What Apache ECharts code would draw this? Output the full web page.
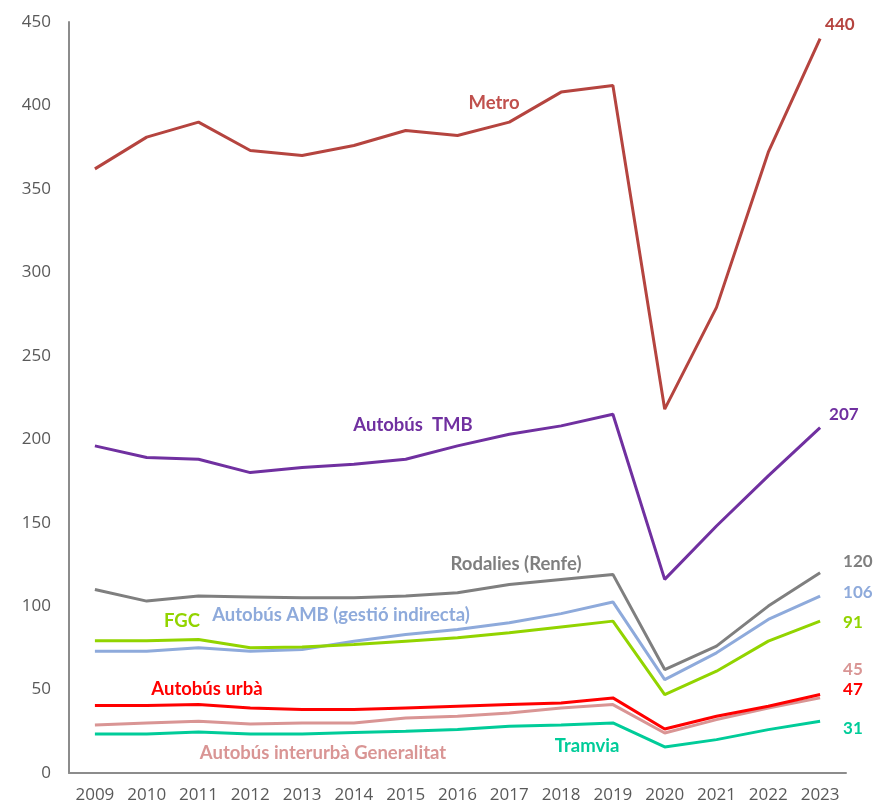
<!DOCTYPE html>
<html>
<head>
<meta charset="utf-8">
<script src="https://cdn.jsdelivr.net/npm/echarts@6/dist/echarts.min.js"></script>
<style>html,body{margin:0;padding:0;background:#fff;}#c{width:875px;height:808px;}</style>
</head>
<body>
<div id="c"></div>
<script>
const years = ['2009','2010','2011','2012','2013','2014','2015','2016','2017','2018','2019','2020','2021','2022','2023'];
const yTicks = [0, 50, 100, 150, 200, 250, 300, 350, 400, 450];

const metro      = [362, 381, 390, 373, 370, 376, 385, 382, 390, 408, 412, 218, 279, 372, 440];
const busTMB     = [196, 189, 188, 180, 183, 185, 188, 196, 203, 208, 215, 116, 148, 178, 207];
const rodalies   = [110, 103, 106, 105.5, 105, 105, 106, 108, 113, 116, 119, 62, 76, 100, 120];
const busAMB     = [73, 73, 75, 73, 74, 79, 83, 86, 90, 95.5, 102.5, 56, 72, 92, 106];
const fgc        = [79.3, 79.3, 80, 75, 75.5, 77, 79, 81, 84, 87.5, 91, 47, 61, 79, 91];
const busUrba    = [40.4, 40.4, 41, 39, 38, 38, 39, 40, 41, 42, 45, 26.4, 34, 40, 47];
const busInter   = [28.8, 30, 31, 29.4, 30, 30, 33, 34, 36, 39, 41, 24, 32, 39, 45];
const tramvia    = [23.4, 23.4, 24.5, 23.3, 23.3, 24.3, 25, 26, 28, 28.8, 30, 15.6, 20, 26, 31];

const FONT = 'Lato';

function mk(name, data, color, width, endOffset, endDist) {
  return {
    name: name, type: 'line', data: data, symbol: 'none', smooth: false,
    lineStyle: { color: color, width: width },
    itemStyle: { color: color },
    z: 3,
    endLabel: {
      show: true, formatter: p => String(p.value),
      color: color, fontFamily: FONT, fontWeight: 'bold', fontSize: 17,
      distance: endDist, offset: endOffset, align: 'left'
    },
    animation: false
  };
}

const chart = echarts.init(document.getElementById('c'), null, { renderer: 'canvas' });

function lbl(text, x, y, color) {
  return { type: 'text', x: x, y: y, z: 10,
    style: { text: text, fill: color, font: 'bold 18.5px ' + FONT, align: 'center', verticalAlign: 'middle' } };
}

chart.setOption({
  animation: false,
  backgroundColor: '#ffffff',
  grid: { left: 69, right: 29, top: 22, bottom: 35, containLabel: false },
  xAxis: {
    type: 'category', data: years, boundaryGap: true,
    axisLine: { show: true, lineStyle: { color: '#8c8c8c', width: 2 } },
    axisTick: { show: false },
    axisLabel: { color: '#595959', fontFamily: 'Open Sans', fontSize: 17, margin: 14, interval: 0 },
    splitLine: { show: false }
  },
  yAxis: {
    type: 'value', min: 0, max: 450, interval: 50,
    axisLine: { show: true, lineStyle: { color: '#8c8c8c', width: 2 } },
    axisTick: { show: false },
    axisLabel: { color: '#595959', fontFamily: 'Open Sans', fontSize: 17, margin: 18,
      formatter: v => yTicks.includes(v) ? String(v) : '' },
    splitLine: { show: false }
  },
  series: [
    mk('Metro', metro, '#b5443f', 3, [0, -14], 5),
    mk('Autobús TMB', busTMB, '#7030a0', 3, [0, -13], 9),
    mk('Rodalies (Renfe)', rodalies, '#7f7f7f', 3, [0, -11], 23),
    mk('Autobús AMB (gestió indirecta)', busAMB, '#8eaadb', 3, [0, -4], 23),
    mk('FGC', fgc, '#92d400', 3, [0, 1], 23),
    mk('Autobús interurbà Generalitat', busInter, '#d99594', 3, [0, -28], 23),
    mk('Autobús urbà', busUrba, '#ff0000', 3, [0, -5], 23),
    mk('Tramvia', tramvia, '#00cc99', 3, [0, 7], 23)
  ],
  graphic: [
    lbl('Metro', 494, 103, '#c0504d'),
    lbl('Autobús  TMB', 413, 425, '#7030a0'),
    lbl('Rodalies (Renfe)', 516, 564, '#7f7f7f'),
    lbl('FGC', 182, 621, '#92d400'),
    lbl('Autobús AMB (gestió indirecta)', 341, 615, '#8eaadb'),
    lbl('Autobús urbà', 207, 689, '#ff0000'),
    lbl('Autobús interurbà Generalitat', 323, 753, '#d99594'),
    lbl('Tramvia', 587, 746, '#00cc99')
  ]
});
</script>
</body>
</html>
